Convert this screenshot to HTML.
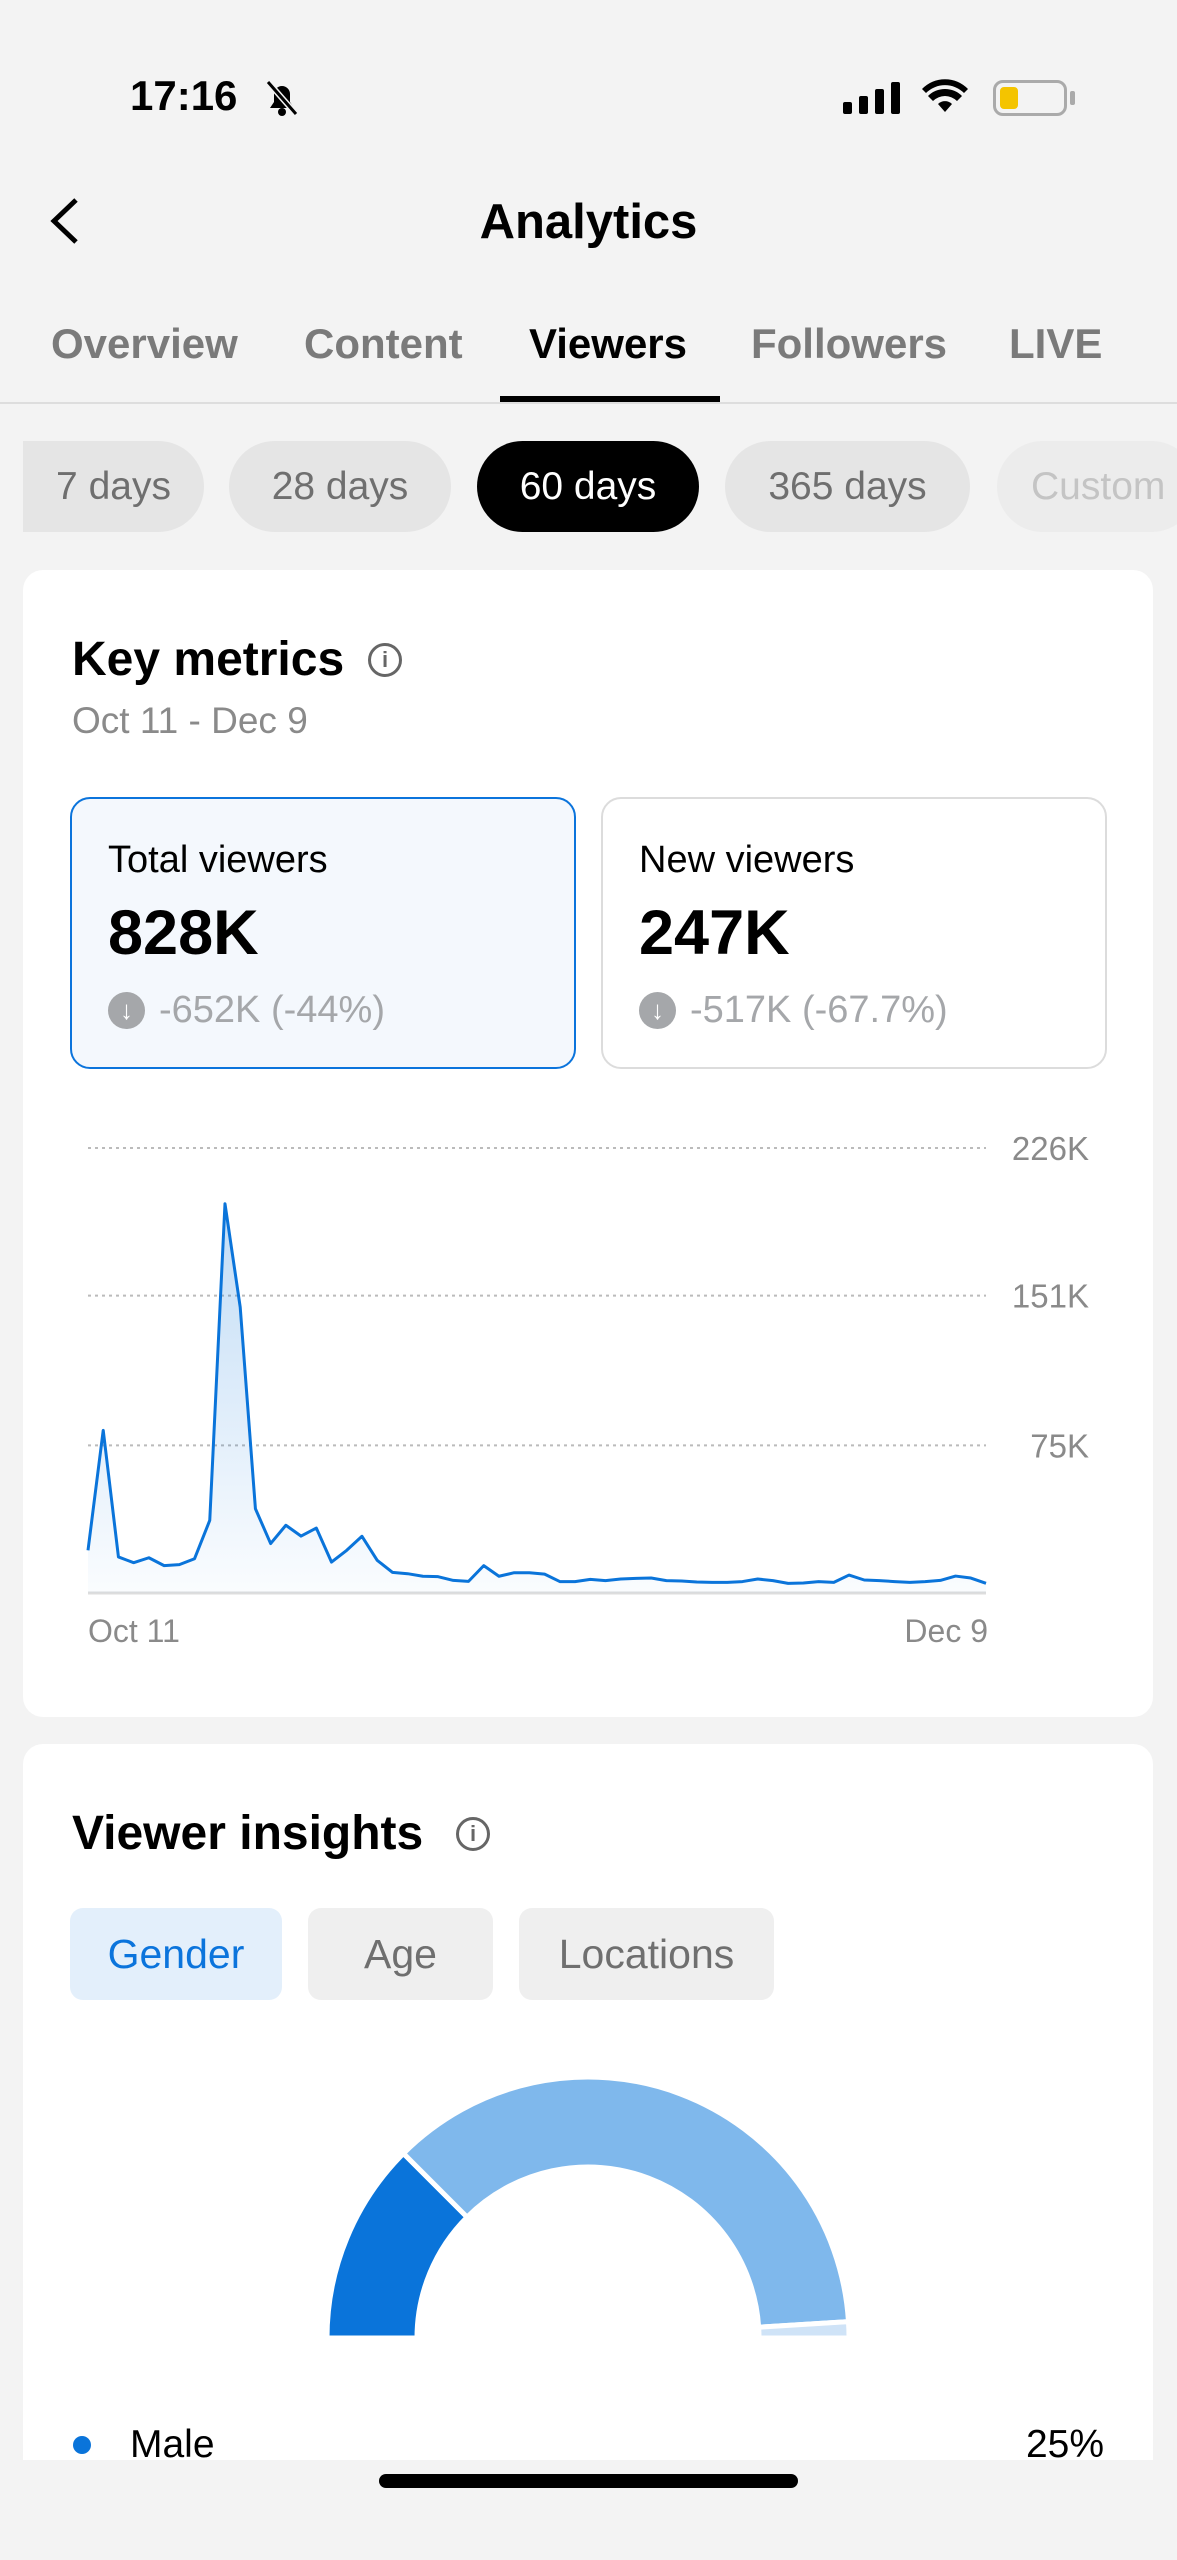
<!DOCTYPE html>
<html><head><meta charset="utf-8">
<style>
*{box-sizing:border-box;margin:0;padding:0}
body{width:1177px;height:2560px;background:#f3f3f3;font-family:"Liberation Sans",sans-serif;position:relative;overflow:hidden;color:#000}
.abs{position:absolute}
.tab{position:absolute;top:320px;font-size:42px;color:#7a7a7a;font-weight:bold;white-space:nowrap}
.pill{position:absolute;top:441px;height:91px;border-radius:46px;background:#e5e5e5;font-size:39px;color:#6f6f6f;display:flex;align-items:center;justify-content:center;white-space:nowrap;overflow:hidden}
.card{position:absolute;left:23px;width:1130px;background:#fff;border-radius:20px}
.metric{position:absolute;top:797px;width:506px;height:272px;border-radius:20px}
.mlabel{position:absolute;left:36px;top:40px;font-size:38px}
.mval{position:absolute;left:36px;top:98px;font-size:63px;font-weight:bold}
.mchg{position:absolute;left:36px;top:190px;font-size:38px;color:#a5a7aa;display:flex;align-items:center;gap:14px}
.dn{width:37px;height:37px;border-radius:50%;background:#a5a7aa;color:#fff;font-size:26px;display:flex;align-items:center;justify-content:center}
.chip{position:absolute;top:1908px;height:92px;border-radius:13px;background:#efefef;color:#6f6f6f;font-size:41px;display:flex;align-items:center;justify-content:center}
</style></head><body>
<div class="abs" style="left:130px;top:72px;font-size:42px;font-weight:bold">17:16</div>
<svg class="abs" style="left:262px;top:78px" width="40" height="40" viewBox="0 0 40 40"><path d="M8 30h24l-4-6V16a8 8 0 0 0-16 0v8z" fill="#000"/><circle cx="20" cy="34" r="4"/><line x1="6" y1="4" x2="34" y2="36" stroke="#f3f3f3" stroke-width="6"/><line x1="6" y1="4" x2="34" y2="36" stroke="#000" stroke-width="3"/></svg>
<svg class="abs" style="left:843px;top:82px" width="58" height="32"><rect x="0" y="20" width="9" height="12" rx="2"/><rect x="16" y="14" width="9" height="18" rx="2"/><rect x="32" y="7" width="9" height="25" rx="2"/><rect x="48" y="0" width="9" height="32" rx="2"/></svg>
<svg class="abs" style="left:922px;top:78px" width="46" height="36" viewBox="0 0 46 36"><path d="M23 34l-7-8a10 10 0 0 1 14 0z"/><path d="M6 18a24 24 0 0 1 34 0l-5 5a17 17 0 0 0-24 0z"/><path d="M0 11a32 32 0 0 1 46 0l-4 4a27 27 0 0 0-38 0z"/></svg>
<div class="abs" style="left:993px;top:80px;width:74px;height:36px;border:3px solid #aaa;border-radius:10px"><div style="position:absolute;left:4px;top:4px;width:18px;height:22px;background:#f4c400;border-radius:4px"></div></div>
<div class="abs" style="left:1070px;top:91px;width:5px;height:14px;background:#aaa;border-radius:2px"></div>

<svg class="abs" style="left:46px;top:196px" width="36" height="50"><polyline points="30,4 8,25 30,46" fill="none" stroke="#000" stroke-width="5"/></svg>
<div class="abs" style="left:0;width:1177px;top:194px;text-align:center;font-size:49px;font-weight:bold">Analytics</div>

<div class="tab" style="left:51px">Overview</div>
<div class="tab" style="left:304px">Content</div>
<div class="tab" style="left:529px;color:#000">Viewers</div>
<div class="tab" style="left:751px">Followers</div>
<div class="tab" style="left:1009px">LIVE</div>
<div class="abs" style="left:0;top:402px;width:1177px;height:2px;background:#ddd"></div>
<div class="abs" style="left:500px;top:396px;width:220px;height:6px;background:#000"></div>

<div class="pill" style="left:23px;width:181px;border-radius:0 46px 46px 0">7 days</div>
<div class="pill" style="left:229px;width:222px">28 days</div>
<div class="pill" style="left:477px;width:222px;background:#000;color:#fff">60 days</div>
<div class="pill" style="left:725px;width:245px">365 days</div>
<div class="pill" style="left:997px;width:200px;background:#ececec;color:#c4c4c4;justify-content:flex-start;padding-left:34px">Custom</div>

<div class="card" style="top:570px;height:1147px"></div>
<div class="abs" style="left:72px;top:632px;font-size:48px;font-weight:bold">Key metrics</div>
<div class="abs" style="left:368px;top:643px;width:34px;height:34px;border:3px solid #666;border-radius:50%;font-size:22px;color:#666;text-align:center;line-height:28px;font-weight:bold">i</div>
<div class="abs" style="left:72px;top:700px;font-size:37px;color:#8a8a8a">Oct 11 - Dec 9</div>

<div class="metric" style="left:70px;background:#f4f8fd;border:2px solid #0b74dc">
 <div class="mlabel">Total viewers</div><div class="mval">828K</div>
 <div class="mchg"><div class="dn">↓</div>-652K (-44%)</div></div>
<div class="metric" style="left:601px;background:#fff;border:2px solid #dcdcdc">
 <div class="mlabel">New viewers</div><div class="mval">247K</div>
 <div class="mchg"><div class="dn">↓</div>-517K (-67.7%)</div></div>

<svg id="chart" class="abs" style="left:0;top:0" width="1177" height="1717"></svg>

<div class="card" style="top:1744px;height:716px;border-radius:20px 20px 0 0;overflow:hidden"></div>
<div class="abs" style="left:72px;top:1806px;font-size:48px;font-weight:bold">Viewer insights</div>
<div class="abs" style="left:456px;top:1817px;width:34px;height:34px;border:3px solid #666;border-radius:50%;font-size:22px;color:#666;text-align:center;line-height:28px;font-weight:bold">i</div>
<div class="chip" style="left:70px;width:212px;background:#e3effb;color:#0b74dc">Gender</div>
<div class="chip" style="left:308px;width:185px">Age</div>
<div class="chip" style="left:519px;width:255px">Locations</div>
<svg id="donut" class="abs" style="left:0;top:2040px" width="1177" height="310"></svg>
<div class="abs" style="left:73px;top:2436px;width:18px;height:18px;border-radius:50%;background:#0a74da"></div>
<div class="abs" style="left:130px;top:2423px;font-size:39px;height:37px;overflow:hidden">Male</div>
<div class="abs" style="left:990px;width:114px;text-align:right;top:2423px;font-size:39px;height:37px;overflow:hidden">25%</div>
<div class="abs" style="left:379px;top:2474px;width:419px;height:14px;border-radius:7px;background:#000"></div>

<script>
const viewers=[21.7,82.6,18.3,15.4,17.9,13.9,14.4,17.4,36.9,197.7,145.2,42.8,25.1,34.4,28.9,33,15.7,21.7,28.8,16.6,10.5,9.8,8.5,8.3,6.4,5.9,13.9,8.5,10.3,10.3,9.6,5.8,5.8,6.9,6.3,7.1,7.4,7.6,6.3,6.1,5.6,5.4,5.4,5.8,7.1,6.3,4.9,5.1,5.8,5.4,9.1,6.6,6.3,5.8,5.4,5.8,6.4,8.6,7.6,4.9];
const yTicks=[75,151,226];
const yTickLabels=["75K","151K","226K"];
const xLabels=["Oct 11","Dec 9"];
const genderValues=[25,73,2];
const genderColors=["#0a74da","#7fb8ec","#cfe3f7"];

const NS="http://www.w3.org/2000/svg";
const svg=document.getElementById('chart');
const X0=88,X1=986,Y0=1593,YT=1148,VMAX=226;
const xs=i=>X0+(X1-X0)*i/(viewers.length-1);
const ys=v=>Y0-(Y0-YT)*v/VMAX;
function mk(t,a){const e=document.createElementNS(NS,t);for(const k in a)e.setAttribute(k,a[k]);return e;}
const defs=mk('defs',{});
const g=mk('linearGradient',{id:'gr',x1:0,y1:0,x2:0,y2:1});
g.appendChild(mk('stop',{offset:'0','stop-color':'#0a74da','stop-opacity':'0.25'}));
g.appendChild(mk('stop',{offset:'1','stop-color':'#0a74da','stop-opacity':'0.02'}));
defs.appendChild(g);svg.appendChild(defs);
yTicks.forEach((t,i)=>{
 const l=mk('line',{x1:X0,x2:X1,y1:ys(t),y2:ys(t),stroke:'#bbb','stroke-width':2,'stroke-dasharray':'3 4'});
 
 
 svg.appendChild(l);
 const tx=mk('text',{x:1089,y:ys(t)+12,'text-anchor':'end','font-size':33,fill:'#8a8a8a','font-family':'Liberation Sans'});
 tx.textContent=yTickLabels[i];
 
 
 svg.appendChild(tx);
});
const bl=mk('line',{x1:X0,x2:X1,y1:Y0,y2:Y0,stroke:'#ddd','stroke-width':3});


svg.appendChild(bl);
let pts=viewers.map((v,i)=>xs(i)+','+ys(v)).join(' ');
const area=mk('polygon',{points:X0+','+Y0+' '+pts+' '+X1+','+Y0,fill:'url(#gr)'});


svg.appendChild(area);
const line=mk('polyline',{points:pts,fill:'none',stroke:'#0a74da','stroke-width':3,'stroke-linejoin':'round'});


svg.appendChild(line);
xLabels.forEach((s,i)=>{
 const tx=mk('text',{x:i?X1+2:X0,y:1642,'text-anchor':i?'end':'start','font-size':32,fill:'#8a8a8a','font-family':'Liberation Sans'});
 tx.textContent=s;
 
 
 svg.appendChild(tx);
});
const dsv=document.getElementById('donut');
const cx=588,cy=298,R=261,r=171;
const tot=genderValues.reduce((a,b)=>a+b,0);
let acc=0;
genderValues.forEach((v,i)=>{
 const a0=Math.PI*(1-acc/tot),a1=Math.PI*(1-(acc+v)/tot);acc+=v;
 const p=(rad,a)=>(cx+rad*Math.cos(a))+','+(cy-rad*Math.sin(a));
 const d='M'+p(R,a0)+' A'+R+','+R+' 0 0 1 '+p(R,a1)+' L'+p(r,a1)+' A'+r+','+r+' 0 0 0 '+p(r,a0)+' Z';
 const path=mk('path',{d:d,fill:genderColors[i],stroke:'#fff','stroke-width':5});
 
 
 dsv.appendChild(path);
});
</script>
</body></html>
